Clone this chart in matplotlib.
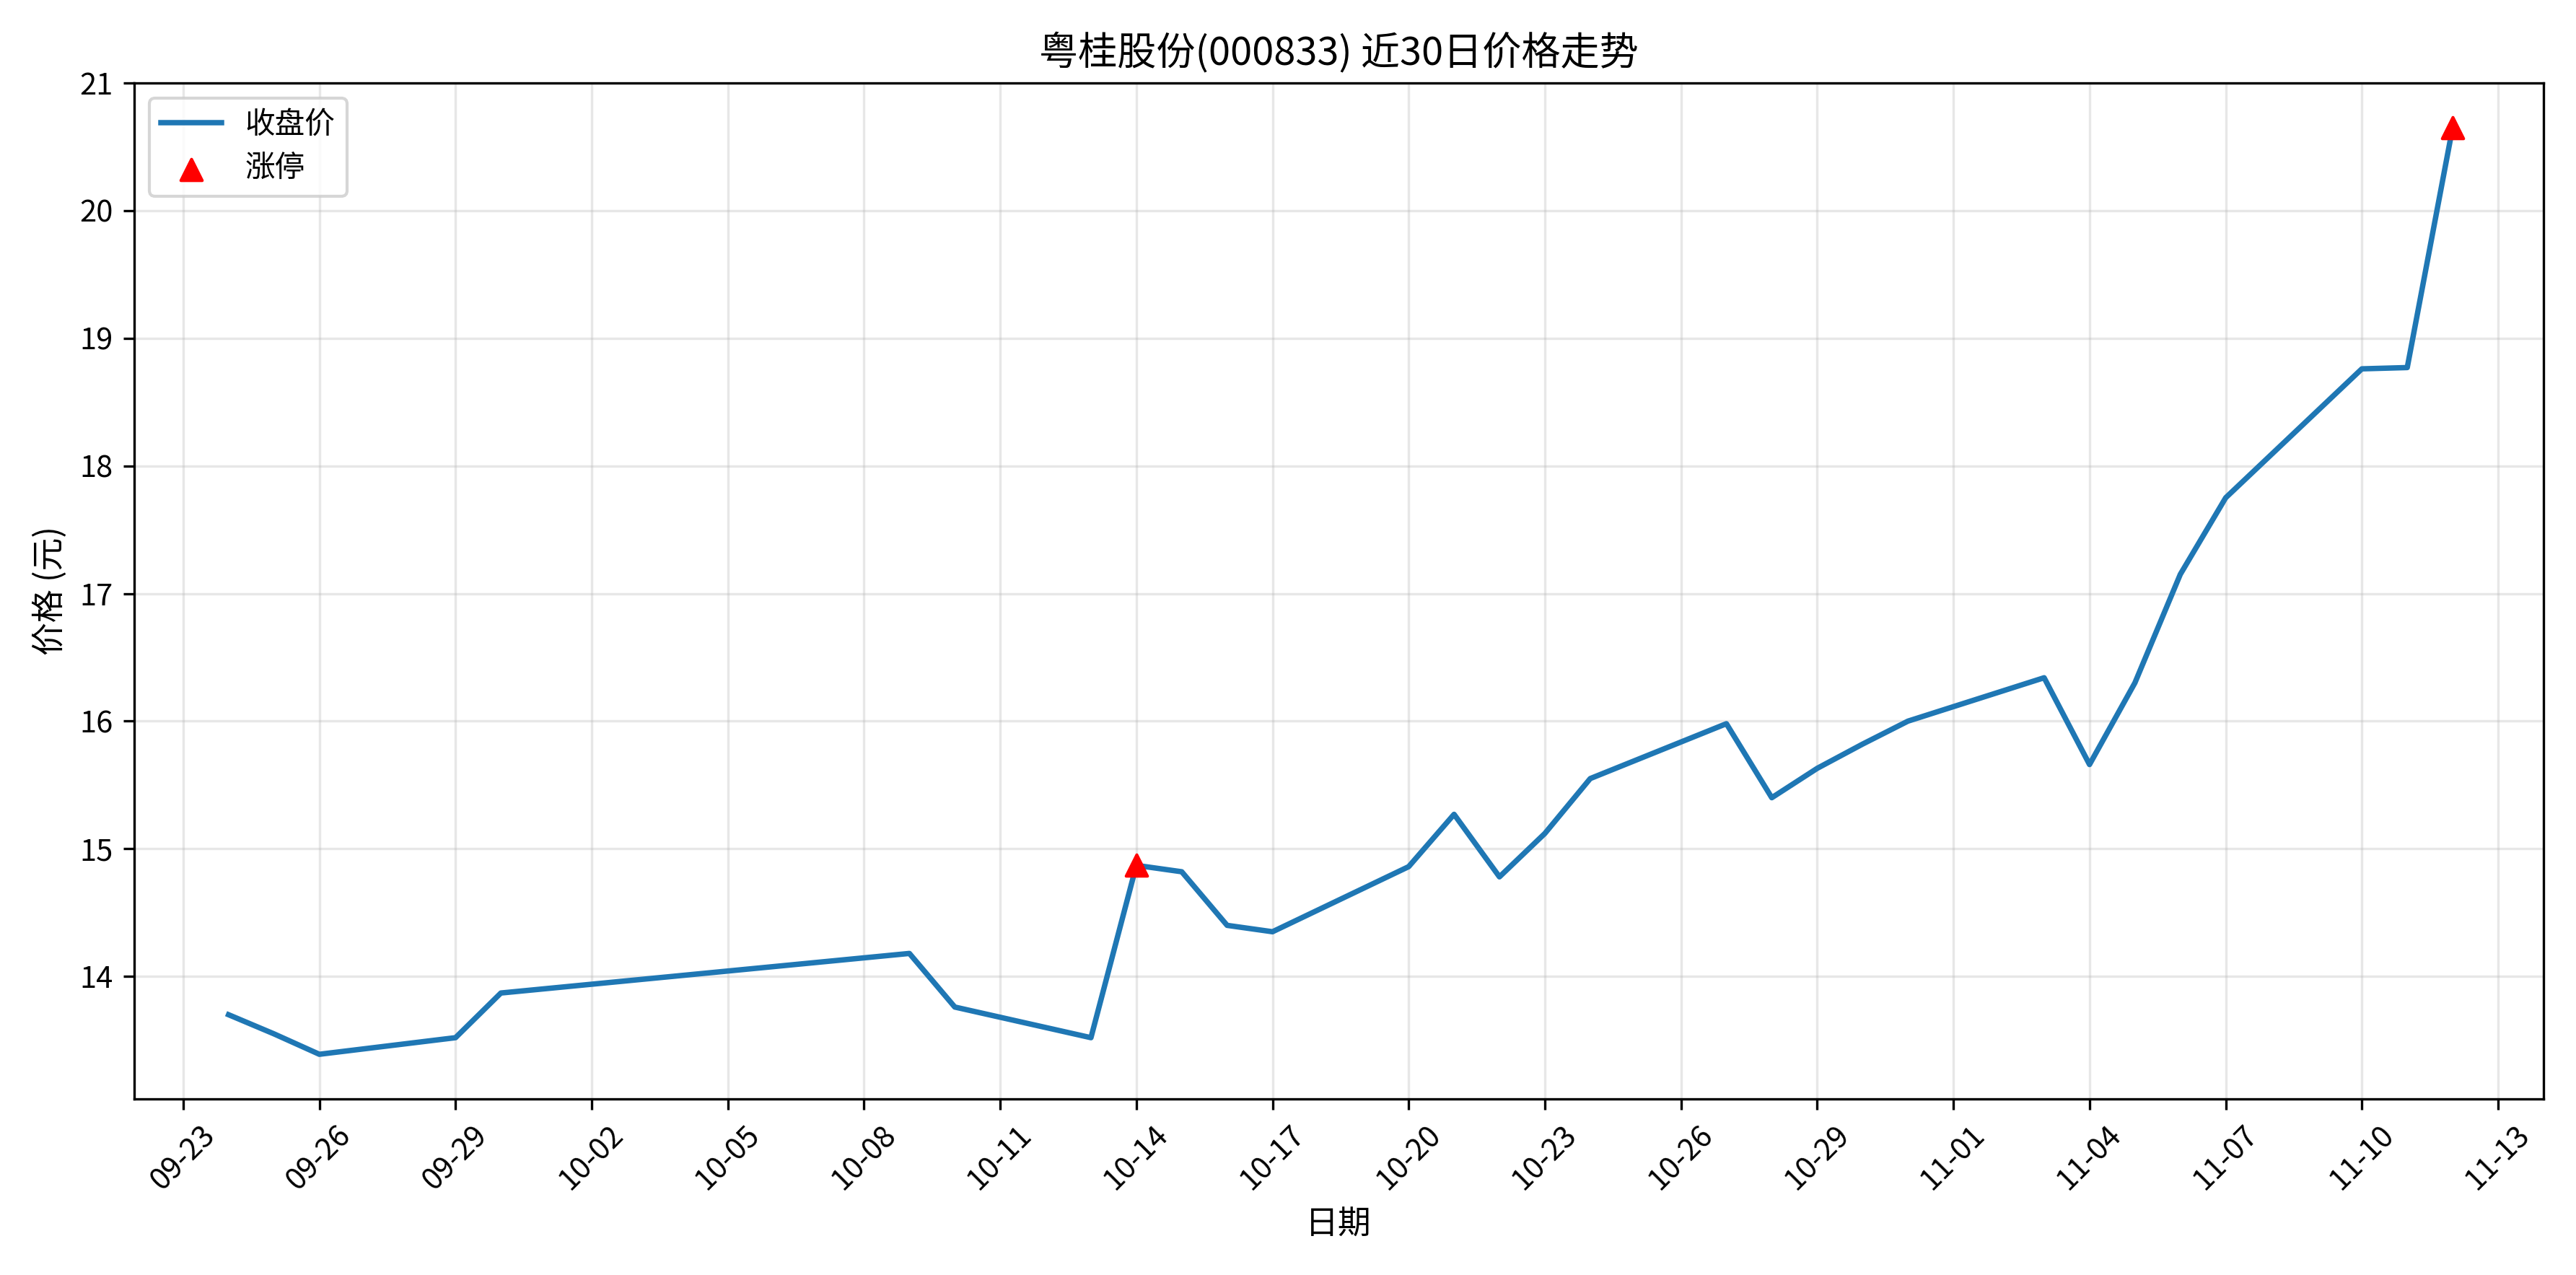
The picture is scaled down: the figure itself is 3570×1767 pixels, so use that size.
import matplotlib
matplotlib.use("Agg")
import matplotlib.pyplot as plt
import matplotlib.dates as mdates
import pandas as pd

plt.rcParams['font.family'] = ['Noto Sans CJK SC', 'DejaVu Sans']
plt.rcParams['axes.unicode_minus'] = False

dates = ["2025-09-24","2025-09-25","2025-09-26","2025-09-29","2025-09-30","2025-10-09","2025-10-10",
         "2025-10-13","2025-10-14","2025-10-15","2025-10-16","2025-10-17","2025-10-20","2025-10-21",
         "2025-10-22","2025-10-23","2025-10-24","2025-10-27","2025-10-28","2025-10-29","2025-10-30",
         "2025-10-31","2025-11-03","2025-11-04","2025-11-05","2025-11-06","2025-11-07","2025-11-10",
         "2025-11-11","2025-11-12"]
close = [13.70,13.55,13.39,13.52,13.87,14.18,13.76,13.52,14.87,14.82,14.40,14.35,14.86,15.27,
         14.78,15.12,15.55,15.98,15.40,15.63,15.82,16.00,16.34,15.66,16.30,17.15,17.75,18.76,18.77,20.65]
limit_up_dates = ["2025-10-14","2025-11-12"]
limit_up_prices = [14.87,20.65]

d = pd.to_datetime(dates)
fig, ax = plt.subplots(figsize=(11.9, 5.89), dpi=300)
ax.plot(d, close, color='#1f77b4', lw=1.8, label='收盘价')
ax.scatter(pd.to_datetime(limit_up_dates), limit_up_prices, color='red', marker='^', s=50, zorder=5, label='涨停')
ax.set_title('粤桂股份(000833) 近30日价格走势', fontsize=13)
ax.set_xlabel('日期', fontsize=11)
ax.set_ylabel('价格 (元)', fontsize=11)
ticks = pd.date_range("2025-09-23", "2025-11-13", freq="3D")
ax.set_xticks(ticks)
ax.xaxis.set_major_formatter(mdates.DateFormatter('%m-%d'))
ax.set_xlim(pd.Timestamp("2025-09-21 22:00"), pd.Timestamp("2025-11-14 00:00"))
ax.set_ylim(13.04, 21.0)
plt.setp(ax.get_xticklabels(), rotation=45)
ax.grid(True, alpha=0.3)
ax.legend(loc='upper left')
fig.tight_layout()
fig.savefig('out.png', dpi=300)
